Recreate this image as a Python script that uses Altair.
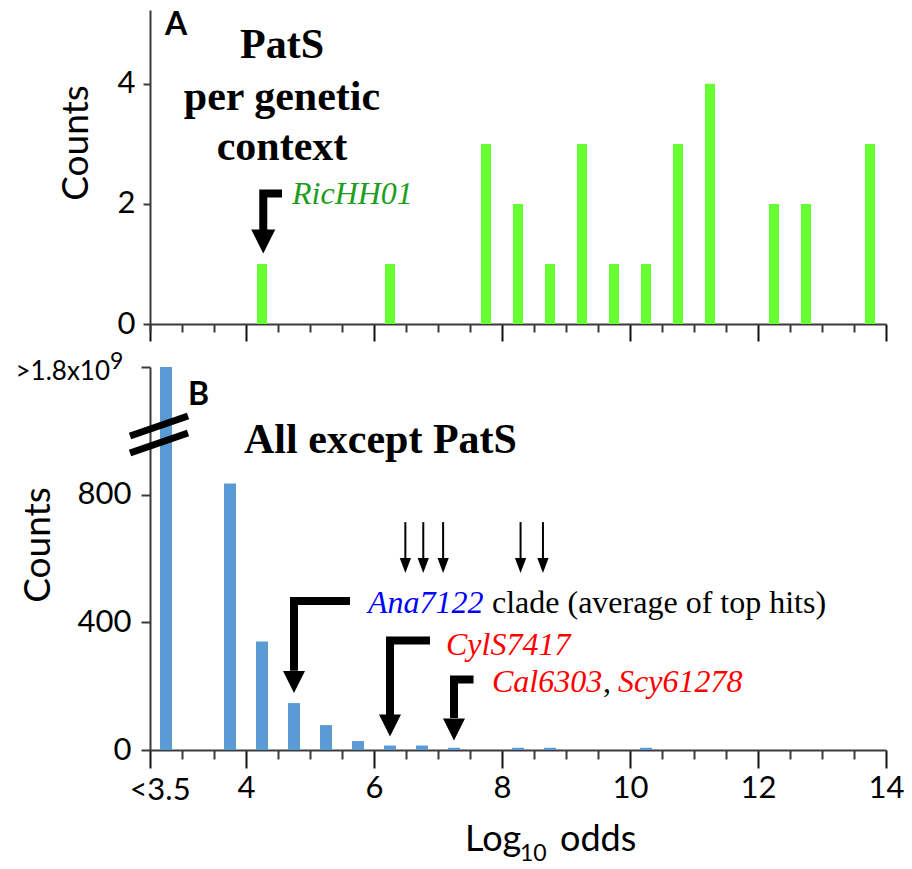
import altair as alt
import pandas as pd

# ---------------- data ----------------
# Panel A: PatS per genetic context (bin centres of 0.5-wide log10-odds bins)
a_bins = [4.25, 6.25, 7.75, 8.25, 8.75, 9.25, 9.75, 10.25, 10.75, 11.25, 12.25, 12.75, 13.75]
a_counts = [1, 1, 3, 2, 1, 3, 1, 1, 3, 4, 2, 2, 3]

# Panel B: all except PatS (first bin is "<3.5", >1.8x10^9, drawn up to the axis break)
b_bins = [2.75, 3.75, 4.25, 4.75, 5.25, 5.75, 6.25, 6.75, 7.25, 8.25, 8.75, 10.25]
b_counts = [1200, 835, 340, 147, 78, 28, 14, 14, 7, 7, 7, 7]

# small arrows: top hits of the Ana7122 clade
hit_x = [6.49, 6.77, 7.08, 8.29, 8.64]

# axis ticks
x_major = [2.5, 4, 6, 8, 10, 12, 14]
x_minor = [3, 3.5, 4.5, 5, 5.5, 6.5, 7, 7.5, 8.5, 9, 9.5, 10.5, 11, 11.5, 12.5, 13, 13.5]
a_yticks = [0, 2, 4]
b_yticks = [0, 400, 800, 1200]

# ---------------- style ----------------
GREEN = "#66FF33"
BLUE = "#5B9BD5"
SERIF = "Liberation Serif"
SANS = "Lato"
AX = "#3a3a3a"
TRI = "M-1,-1L1,-1L0,1Z"
TRI_S = "M-0.75,-1L0.75,-1L0,1Z"

W, HA, HB = 736, 314, 383
xs = alt.Scale(domain=[2.5, 14], nice=False, zero=False, padding=0)
ya = alt.Scale(domain=[0, 5.23], nice=False, zero=True, padding=0)
yb = alt.Scale(domain=[0, 1200], nice=False, zero=True, padding=0)

one = pd.DataFrame({"k": [0]})


def text(t, x, y, size, font=SERIF, color="black", weight="normal", style="normal",
         align="left", baseline="alphabetic", angle=0):
    return alt.Chart(one).mark_text(
        text=t, font=font, fontSize=size, color=color, fontWeight=weight,
        fontStyle=style, align=align, baseline=baseline, angle=angle
    ).encode(x=alt.value(x), y=alt.value(y))


def xaxis_major(labels, size):
    kw = dict(values=x_major, tickSize=size, tickWidth=2, tickColor="#111",
              domainColor=AX, domainWidth=2, title=None, grid=False, orient="bottom")
    if labels:
        kw.update(labels=True, labelFont=SANS, labelFontSize=31, labelColor="black",
                  labelPadding=5, labelFlush=False,
                  labelExpr="datum.value == 2.5 ? '' : datum.label")
    else:
        kw.update(labels=False)
    return alt.Axis(**kw)


def xaxis_minor(size, with_start=False):
    vals = ([2.5] if with_start else []) + x_minor
    return alt.Axis(values=vals, tickSize=size, tickWidth=2, tickColor=AX, domain=False,
                    labels=False, title=None, grid=False, orient="bottom")


def yaxis(values, tsize, pad, expr=None):
    kw = dict(values=values, tickSize=tsize, tickWidth=2, tickColor=AX, domainColor=AX,
              domainWidth=2, labelFont=SANS, labelFontSize=31, labelColor="black",
              labelPadding=pad, labelFlush=False, title=None, grid=False, orient="left")
    if expr:
        kw["labelExpr"] = expr
    return alt.Axis(**kw)


# ---------------- panel A ----------------
dfA = pd.DataFrame({"x": a_bins, "c": a_counts})
barsA = alt.Chart(dfA).mark_bar(size=10, color=GREEN).encode(
    x=alt.X("x:Q", scale=xs, axis=xaxis_major(False, 17)),
    y=alt.Y("c:Q", scale=ya, axis=yaxis(a_yticks, 7, 8)),
)
minorA = alt.Chart(dfA).mark_point(opacity=0).encode(
    x=alt.X("x:Q", scale=xs, axis=xaxis_minor(8, True)),
    y=alt.Y("c:Q", scale=ya, axis=None),
)
elbA = pd.DataFrame({"id": [0, 0, 0], "o": [0, 1, 2],
                     "x": [4.5625, 4.27, 4.27], "y": [2.175, 2.175, 1.56]})
lineA = alt.Chart(elbA).mark_line(color="black", strokeWidth=8, strokeJoin="miter",
                                   strokeCap="butt").encode(
    x=alt.X("x:Q", scale=xs, axis=None), y=alt.Y("y:Q", scale=ya, axis=None),
    detail="id:N", order="o:Q")
headA = alt.Chart(pd.DataFrame({"x": [4.27], "y": [1.375]})).mark_point(
    shape=TRI, filled=True, size=576, color="black", opacity=1, strokeWidth=0).encode(
    x=alt.X("x:Q", scale=xs, axis=None), y=alt.Y("y:Q", scale=ya, axis=None))

panelA = alt.layer(
    barsA, minorA, lineA, headA,
    text("A", 15, 25, 32, font=SANS, weight="bold"),
    text("PatS", 132, 48, 42, weight="bold", align="center"),
    text("per genetic", 132, 100, 42, weight="bold", align="center"),
    text("context", 132, 150, 42, weight="bold", align="center"),
    text("RicHH01", 142, 194, 32, color="#1E9E1E", style="italic"),
    text("Counts", -73, 133, 37, font=SANS, align="center", baseline="middle", angle=270),
).resolve_axis(x="independent", y="independent").properties(width=W, height=HA)

# ---------------- panel B ----------------
dfB = pd.DataFrame({"x": b_bins, "c": b_counts})
barsB = alt.Chart(dfB).mark_bar(size=12, color=BLUE).encode(
    x=alt.X("x:Q", scale=xs, axis=xaxis_major(True, 18)),
    y=alt.Y("c:Q", scale=yb, axis=yaxis(b_yticks, 9, 10,
                                        "datum.value == 1200 ? '' : datum.label")),
)
minorB = alt.Chart(dfB).mark_point(opacity=0).encode(
    x=alt.X("x:Q", scale=xs, axis=xaxis_minor(9)),
    y=alt.Y("c:Q", scale=yb, axis=None),
)
elbB = pd.DataFrame({
    "id": [0, 0, 0, 1, 1, 1, 2, 2, 2],
    "o": [0, 1, 2] * 3,
    "x": [5.625, 4.75, 4.75, 6.875, 6.25, 6.25, 7.555, 7.25, 7.25],
    "y": [467, 467, 248, 343, 343, 110, 221, 221, 100],
})
lineB = alt.Chart(elbB).mark_line(color="black", strokeWidth=8, strokeJoin="miter",
                                   strokeCap="butt").encode(
    x=alt.X("x:Q", scale=xs, axis=None), y=alt.Y("y:Q", scale=yb, axis=None),
    detail="id:N", order="o:Q")
headB = alt.Chart(pd.DataFrame({"x": [4.75, 6.25, 7.25], "y": [213, 77, 64]})).mark_point(
    shape=TRI, filled=True, size=484, color="black", opacity=1, strokeWidth=0).encode(
    x=alt.X("x:Q", scale=xs, axis=None), y=alt.Y("y:Q", scale=yb, axis=None))
dfH = pd.DataFrame({"x": hit_x})
hitLines = alt.Chart(dfH).mark_rule(color="black", strokeWidth=2).encode(
    x=alt.X("x:Q", scale=xs, axis=None),
    y=alt.Y(datum=714, scale=yb, axis=None), y2=alt.Y2(datum=601))
hitHeads = alt.Chart(dfH).mark_point(
    shape=TRI_S, filled=True, size=225, color="black", opacity=1, strokeWidth=0).encode(
    x=alt.X("x:Q", scale=xs, axis=None), y=alt.Y(datum=578, scale=yb, axis=None))

# axis break marks (pixel positions relative to panel B)
brk = pd.DataFrame({"x": [-20, -20], "y": [69, 86], "x2": [38, 38], "y2": [49, 66]})
breakMarks = alt.Chart(brk).mark_rule(color="black", strokeWidth=7).encode(
    x=alt.X("x:Q", scale=None, axis=None), y=alt.Y("y:Q", scale=None, axis=None),
    x2="x2:Q", y2="y2:Q")

panelB = alt.layer(
    barsB, minorB, lineB, headB, hitLines, hitHeads, breakMarks,
    text("B", 38, 38, 32, font=SANS, weight="bold"),
    text("All except PatS", 94, 86, 42, weight="bold"),
    text("Ana7122", 218, 246, 32, color="#0000FF", style="italic"),
    text("clade (average of top hits)", 342, 246, 32),
    text("CylS7417", 296, 288, 32, color="#FF0000", style="italic"),
    text("Cal6303", 342, 325, 32, color="#FF0000", style="italic"),
    text(",", 453, 325, 32),
    text("Scy61278", 468, 325, 32, color="#FF0000", style="italic"),
    text(">1.8x10", -40, 13, 26, font=SANS, align="right"),
    text("9", -40, 2, 23, font=SANS),
    text("<3.5", 10, 433, 31, font=SANS, align="center"),
    text("Log", 315, 484, 36, font=SANS),
    text("10", 370, 494, 23, font=SANS),
    text("odds", 410, 484, 36, font=SANS),
    text("Counts", -111, 178, 37, font=SANS, align="center", baseline="middle", angle=270),
).resolve_axis(x="independent", y="independent").properties(width=W, height=HB)

chart = alt.vconcat(panelA, panelB, spacing=43, bounds="flush").properties(
    padding={"left": 7, "top": 1, "right": 0, "bottom": 0}
).configure_view(stroke=None)

chart.save("out.html", embed_options={"renderer": "svg", "actions": False})
